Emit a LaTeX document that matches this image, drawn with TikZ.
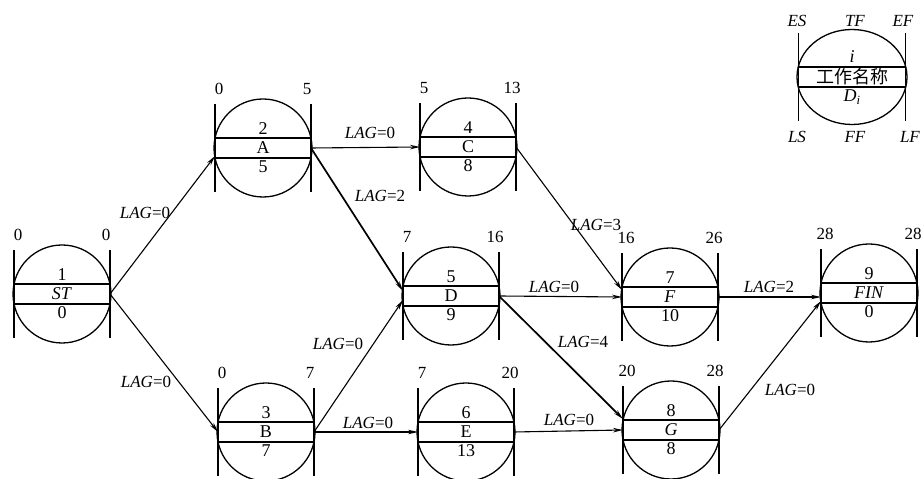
\documentclass[tikz,border=0pt]{standalone}
\usepackage{fontspec}
\setmainfont{Liberation Serif}
\newfontfamily\cjk{Noto Sans CJK SC}
\usetikzlibrary{arrows.meta, shapes.geometric, calc}
\tikzset{
  actcirc/.style={circle, draw, line width=1.3pt, minimum size=98pt, inner sep=0pt},
  keycirc/.style={ellipse, draw, line width=1.3pt, minimum width=110pt, minimum height=95pt, inner sep=0pt},
  bar/.style={line width=1.6pt},
  band/.style={line width=1.3pt},
  celltxt/.style={inner sep=0pt, font=\fontsize{18}{20}\selectfont},
  timetxt/.style={inner sep=0pt, font=\fontsize{17}{20}\selectfont},
  lag/.style={inner sep=0pt, font=\fontsize{17}{20}\selectfont},
  link/.style={line width=1.1pt, -{Stealth[length=10pt, width=4.5pt]}},
  critlink/.style={link, line width=1.7pt},
}

\begin{document}
\begin{tikzpicture}[x=1pt, y=1pt]
  \useasboundingbox (0,0) rectangle (922,479);

  % --- ACTIVITIES: name/x/y/no/title/duration/ES/EF ---
  \foreach \nm/\x/\y/\no/\ttl/\dur/\es/\ef in {
      st/62/185/1/\textit{ST}/0/0/0,
      a/263/331/2/A/5/0/5,
      c/468/332/4/C/8/5/13,
      d/451/183/5/D/9/7/16,
      f/670/182/7/\textit{F}/10/16/26,
      fin/869/186/9/\textit{FIN}/0/28/28,
      b/266/47/3/B/7/0/7,
      e/466/47/6/E/13/7/20,
      g/671/49/8/\textit{G}/8/20/28} {
    \begin{scope}[shift={(\x,\y)}]
      \node[actcirc] (\nm) at (0,0) {};
      \draw[bar] (-48,-44) -- (-48,44);
      \draw[bar] (48,-44) -- (48,44);
      \draw[band] (-48,10) -- (48,10);
      \draw[band] (-48,-10) -- (48,-10);
      \node[celltxt] (\nm-no) at (0,19) {\no};
      \node[celltxt] (\nm-ttl) at (0,0) {\ttl};
      \node[celltxt] (\nm-dur) at (0,-19) {\dur};
      \node[timetxt] (\nm-es) at (-44,59) {\es};
      \node[timetxt] (\nm-ef) at (44,59) {\ef};
      \coordinate (\nm-in) at (-48,0);
      \coordinate (\nm-out) at (48,0);
    \end{scope}
  }

  % --- KEY (top right) ---
  \begin{scope}[shift={(852,402)}]
    \node[keycirc] (key) at (0,0) {};
    \draw[bar] (-53.5,-44) -- (-53.5,44);
    \draw[bar] (53.5,-44) -- (53.5,44);
    \draw[band] (-53.5,10) -- (53.5,10);
    \draw[band] (-53.5,-10) -- (53.5,-10);
    \node[celltxt] (key-no) at (0,20) {\textit{i}};
    \node[celltxt] (key-ttl) at (0,0) {\cjk 工作名称};
    \node[celltxt] (key-dur) at (0,-20) {\textit{D}\textsubscript{\textit{i}}};
    \node[timetxt] (key-es) at (-55,56) {\textit{ES}};
    \node[timetxt] (key-tf) at (3,56) {\textit{TF}};
    \node[timetxt] (key-ef) at (51,56) {\textit{EF}};
    \node[timetxt] (key-ls) at (-55,-60) {\textit{LS}};
    \node[timetxt] (key-ff) at (3,-60) {\textit{FF}};
    \node[timetxt] (key-lf) at (58,-60) {\textit{LF}};
  \end{scope}

  % --- LINKS ---
  \draw[link] (st-out) -- ($(a-in)+(0,-8)$);
  \draw[link] (st-out) -- (b-in);
  \draw[link] (a-out) -- (c-in);
  \draw[critlink] (a-out) -- ($(d-in)+(0,5)$);
  \draw[link] (b-out) -- ($(d-in)+(0,-4)$);
  \draw[link] (b-out) -- (e-in);
  \draw[link] (c-out) -- ($(f-in)+(0,7)$);
  \draw[link] (d-out) -- (f-in);
  \draw[critlink] (d-out) -- ($(g-in)+(0,11)$);
  \draw[link] (e-out) -- (g-in);
  \draw[link] (f-out) -- ($(fin-in)+(0,-4)$);
  \draw[link] (g-out) -- ($(fin-in)+(0,-8)$);

  % --- LAG LABELS ---
  \node[lag] (lag-st-a) at (145,266) {\textit{LAG}=0};
  \node[lag] (lag-st-b) at (146,97) {\textit{LAG}=0};
  \node[lag] (lag-a-c) at (370,346) {\textit{LAG}=0};
  \node[lag] (lag-a-d) at (380,283) {\textit{LAG}=2};
  \node[lag] (lag-b-d) at (338,135) {\textit{LAG}=0};
  \node[lag] (lag-b-e) at (368,56) {\textit{LAG}=0};
  \node[lag] (lag-c-f) at (596,254) {\textit{LAG}=3};
  \node[lag] (lag-d-f) at (554,192) {\textit{LAG}=0};
  \node[lag] (lag-d-g) at (583,137) {\textit{LAG}=4};
  \node[lag] (lag-e-g) at (569,59) {\textit{LAG}=0};
  \node[lag] (lag-f-fin) at (769,192) {\textit{LAG}=2};
  \node[lag] (lag-g-fin) at (790,89) {\textit{LAG}=0};

\end{tikzpicture}
\end{document}
